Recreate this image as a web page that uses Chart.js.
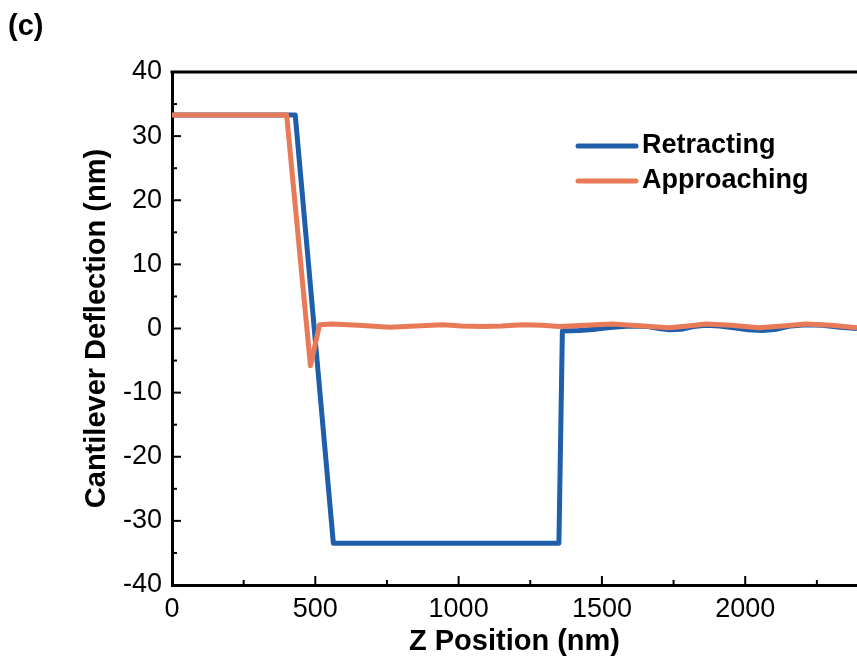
<!DOCTYPE html>
<html>
<head>
<meta charset="utf-8">
<script src="https://cdn.jsdelivr.net/npm/chart.js@4.4.0/dist/chart.umd.min.js"></script>
<style>
  html, body { margin: 0; padding: 0; background: #fff; overflow: hidden; }
  #wrap { position: relative; width: 857px; height: 659px; }
  #panel { position: absolute; left: 8px; top: 9px; font: bold 29px "Liberation Sans", Arial, sans-serif; color: #000; }
</style>
</head>
<body>
<div id="wrap">
  <canvas id="myChart" width="857" height="659"></canvas>
  <div id="panel">(c)</div>
</div>
<script>
'use strict';

// series (x = Z position in nm, y = deflection in nm)
const retractX = [0, 430, 563, 1350, 1362, 1420, 1480, 1537, 1600, 1660, 1700, 1735, 1780, 1820, 1863, 1910, 1960, 2010, 2060, 2110, 2160, 2211, 2270, 2330, 2390];
const retractY = [33.3, 33.3, -33.5, -33.5, -0.4, -0.3, -0.1, 0.2, 0.4, 0.3, 0.0, -0.2, -0.1, 0.3, 0.5, 0.4, 0.1, -0.2, -0.3, -0.1, 0.4, 0.6, 0.5, 0.2, 0.0];

const approachX = [0, 400, 483, 515, 560, 650, 760, 850, 946, 1010, 1085, 1150, 1224, 1290, 1352, 1440, 1537, 1640, 1735, 1800, 1863, 1950, 2048, 2130, 2211, 2300, 2390];
const approachY = [33.3, 33.3, -5.8, 0.6, 0.7, 0.5, 0.2, 0.4, 0.6, 0.4, 0.3, 0.4, 0.6, 0.5, 0.3, 0.5, 0.7, 0.4, 0.1, 0.4, 0.7, 0.5, 0.1, 0.4, 0.7, 0.5, 0.1];

const seriesNames = ['Retracting', 'Approaching'];
const yTicks = [-40, -30, -20, -10, 0, 10, 20, 30, 40];
const xTicks = [0, 500, 1000, 1500, 2000];

const FONT = '"Liberation Sans", Arial, sans-serif';

function toPoints(xs, ys) {
  return xs.map((x, i) => ({ x: x, y: ys[i] }));
}

// frame on top + inward ticks + legend inside plot
const decorPlugin = {
  id: 'decor',
  afterDraw(chart) {
    const ctx = chart.ctx;
    const area = chart.chartArea;
    const xs = chart.scales.x;
    const ys = chart.scales.y;
    ctx.save();
    ctx.strokeStyle = '#000';
    ctx.lineWidth = 3;
    ctx.beginPath();
    ctx.moveTo(area.left - 1.5, area.top);
    ctx.lineTo(area.right + 2, area.top);
    ctx.stroke();

    ctx.lineWidth = 2;
    for (let v = 0; v <= 2500; v += 250) {
      const px = xs.getPixelForValue(v);
      if (px > area.right) break;
      const len = (v % 500 === 0) ? 9 : 5;
      ctx.beginPath();
      ctx.moveTo(px, area.bottom);
      ctx.lineTo(px, area.bottom - len);
      ctx.stroke();
    }
    for (let v = -40; v <= 40; v += 5) {
      const py = ys.getPixelForValue(v);
      const len = (v % 10 === 0) ? 9 : 5;
      ctx.beginPath();
      ctx.moveTo(area.left, py);
      ctx.lineTo(area.left + len, py);
      ctx.stroke();
    }

    // legend
    const lx = 578, ly = 146, gap = 35;
    chart.data.datasets.forEach((ds, i) => {
      const y = ly + i * gap;
      ctx.strokeStyle = ds.borderColor;
      ctx.lineWidth = 5;
      ctx.lineCap = 'round';
      ctx.beginPath();
      ctx.moveTo(lx, y);
      ctx.lineTo(lx + 58, y);
      ctx.stroke();
      ctx.fillStyle = '#000';
      ctx.font = 'bold 27px ' + FONT;
      ctx.textBaseline = 'middle';
      ctx.fillText(ds.label, lx + 64, y);
    });
    ctx.restore();
  }
};

const ctx = document.getElementById('myChart').getContext('2d');
const myChart = new Chart(ctx, {
  type: 'line',
  data: {
    datasets: [{
      label: seriesNames[0],
      data: toPoints(retractX, retractY),
      borderColor: '#1f5eaa',
      borderWidth: 5,
      pointRadius: 0,
      tension: 0,
      order: 1,
      borderJoinStyle: 'round'
    }, {
      label: seriesNames[1],
      data: toPoints(approachX, approachY),
      borderColor: '#e97a58',
      borderWidth: 5,
      pointRadius: 0,
      tension: 0,
      order: 0,
      borderJoinStyle: 'round'
    }]
  },
  options: {
    responsive: false,
    animation: false,
    layout: { padding: { top: 72, right: 0, left: 80, bottom: 0 } },
    plugins: {
      legend: { display: false },
      tooltip: { enabled: false }
    },
    scales: {
      x: {
        type: 'linear',
        min: 0,
        max: 2390,
        afterBuildTicks: (scale) => { scale.ticks = xTicks.map(v => ({ value: v })); },
        afterFit: (scale) => { scale.height = 74; },
        grid: { display: false, drawTicks: false },
        border: { display: true, color: '#000', width: 3 },
        ticks: { color: '#000', padding: 8, maxRotation: 0, font: { family: FONT, size: 27 }, callback: (v) => String(v) },
        title: { display: true, text: 'Z Position (nm)', color: '#000', padding: { top: 0, bottom: 0 }, font: { family: FONT, size: 29, weight: 'bold' } }
      },
      y: {
        min: -40,
        max: 40,
        afterBuildTicks: (scale) => { scale.ticks = yTicks.map(v => ({ value: v })); },
        afterFit: (scale) => { scale.width = 92; },
        grid: { display: false, drawTicks: false },
        border: { display: true, color: '#000', width: 3 },
        ticks: { color: '#000', padding: 10, font: { family: FONT, size: 27 }, callback: (v) => String(v) },
        title: { display: true, text: 'Cantilever Deflection (nm)', color: '#000', padding: { top: 0, bottom: 0 }, font: { family: FONT, size: 29, weight: 'bold' } }
      }
    }
  },
  plugins: [decorPlugin]
});
</script>
</body>
</html>
